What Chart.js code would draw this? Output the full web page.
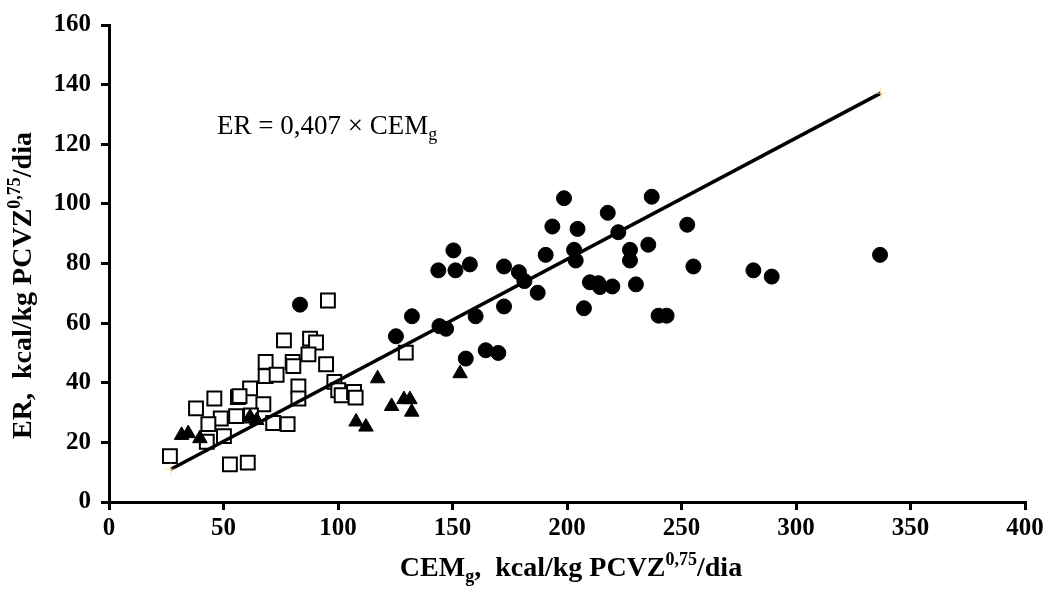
<!DOCTYPE html>
<html><head><meta charset="utf-8">
<script src="https://cdn.jsdelivr.net/npm/chart.js@4/dist/chart.umd.min.js"></script>
<style>html,body{margin:0;padding:0;background:#fff}#wrap{width:1051px;height:596px;position:relative}</style>
</head><body><div id="wrap"><canvas id="c" width="1051" height="596"></canvas></div>
<script>
// ---- data ----
const xTickValues = [0, 50, 100, 150, 200, 250, 300, 350, 400];
const yTickValues = [0, 20, 40, 60, 80, 100, 120, 140, 160];

const squaresX = [95.6,76.4,87.8,90.4,87.1,68.4,80.2,80.5,94.8,68.4,73.2,129.6,61.6,82.7,98.4,100.1,101.6,107,107.7,46,56.3,57,82.7,38,48.8,55.5,67.4,43.4,71.7,78,42.7,50.2,26.6,52.8,60.6,62];
const squaresY = [67.6,54.2,54.8,53.5,49.5,47,47,45.6,46.2,42.2,42.7,50.1,38.1,38.8,40.3,37.5,35.8,36.9,35,34.7,35.2,35.5,34.7,31.4,28,28.8,32.8,26.1,26.5,26.1,20.2,22.1,15.4,12.6,13.2,29];

const trianglesX = [31.7,34.6,39.7,61.6,64.5,117.3,123.4,128.8,131.4,132.2,107.9,112.2,153.3];
const trianglesY = [22.4,23,21.3,28.5,27.4,41.4,32.1,34.4,34.4,30.2,26.9,25.2,43.1];

const circlesX = [83.4,125.3,132.3,144.3,147.2,143.8,150.4,151.3,157.6,160.1,155.8,164.5,170,172.5,172.5,179,181.4,187.2,190.7,193.6,198.7,203.1,203.8,204.6,207.4,210,213.7,214.4,219.8,217.8,222.4,227.5,227.5,235.5,237,230.1,240,243.5,252.5,255.2,281.4,289.4,336.7];
const circlesY = [66.2,55.6,62.3,59,58.1,77.7,84.4,77.7,79.7,62.3,48.1,50.9,50,65.6,79,77.1,74.1,70.2,82.9,92.4,101.9,84.6,81,91.6,65,73.7,73.4,72.1,72.3,97,90.5,84.6,81,86.3,102.4,73,62.5,62.5,93,79,77.7,75.6,82.9];

const regSlope = 0.407;           // ER = 0,407 x CEMg
const regLineX = [27, 337];

// ---- build ----
const pts = (xs, ys) => xs.map((x, i) => ({x: x, y: ys[i]}));
const linePts = regLineX.map(x => ({x: x, y: regSlope * x}));

const FONT = '"Liberation Serif", "Times New Roman", serif';

function drawRich(ctx, segs, x0, baseline, bold, align) {
  let w = 0;
  segs.forEach(s => { ctx.font = (bold ? 'bold ' : '') + s.s + 'px ' + FONT; s.w = ctx.measureText(s.t).width; w += s.w; });
  let x = align === 'left' ? x0 : x0 - w / 2;
  ctx.textBaseline = 'alphabetic';
  ctx.textAlign = 'left';
  segs.forEach(s => {
    ctx.font = (bold ? 'bold ' : '') + s.s + 'px ' + FONT;
    ctx.fillText(s.t, x, baseline + (s.dy || 0));
    x += s.w;
  });
}

const textPlugin = {
  id: 'texts',
  afterDraw(chart) {
    const ctx = chart.ctx, ca = chart.chartArea;
    ctx.save();
    ctx.fillStyle = '#000';
    // x axis title
    drawRich(ctx, [
      {t: 'CEM', s: 28}, {t: 'g', s: 18, dy: 6}, {t: ',  kcal/kg PCVZ', s: 28},
      {t: '0,75', s: 18, dy: -11}, {t: '/dia', s: 28}
    ], (ca.left + ca.right) / 2 + 4, 576, true);
    // y axis title
    ctx.save();
    ctx.translate(21, (ca.top + ca.bottom) / 2 + 22);
    ctx.rotate(-Math.PI / 2);
    drawRich(ctx, [
      {t: 'ER,  kcal/kg PCVZ', s: 28}, {t: '0,75', s: 18, dy: -11}, {t: '/dia', s: 28}
    ], 0, 10, true);
    ctx.restore();
    // regression equation
    drawRich(ctx, [
      {t: 'ER = 0,407 \u00d7 CEM', s: 27}, {t: 'g', s: 18, dy: 6}
    ], 217, 134, false, 'left');
    ctx.restore();
  }
};

Chart.defaults.font.family = FONT;
Chart.defaults.color = '#000';

new Chart(document.getElementById('c'), {
  type: 'scatter',
  data: {
    datasets: [
      {
        label: 'reg', data: linePts, showLine: true, borderColor: '#000', borderWidth: 3.5,
        pointStyle: 'cross', pointRadius: 6, pointBorderColor: 'rgba(255,220,150,0.8)', pointBorderWidth: 1,
        pointBackgroundColor: 'transparent', order: 0
      },
      {
        label: 'squares', data: pts(squaresX, squaresY), pointStyle: 'rect', pointRadius: 9.8,
        backgroundColor: '#fff', borderColor: '#000', borderWidth: 2, order: 3
      },
      {
        label: 'triangles', data: pts(trianglesX, trianglesY), pointStyle: 'triangle', pointRadius: 8.4,
        backgroundColor: '#000', borderColor: '#000', borderWidth: 1, order: 2
      },
      {
        label: 'circles', data: pts(circlesX, circlesY), pointStyle: 'circle', pointRadius: 7.5,
        backgroundColor: '#000', borderColor: '#000', borderWidth: 1, order: 1
      }
    ]
  },
  options: {
    responsive: false, animation: false, devicePixelRatio: 1,
    layout: {padding: {left: 0, top: 24, right: 26, bottom: 0}},
    plugins: {legend: {display: false}, tooltip: {enabled: false}},
    scales: {
      x: {
        type: 'linear', min: 0, max: 400,
        afterBuildTicks: s => { s.ticks = xTickValues.map(v => ({value: v})); },
        afterFit: s => { s.height = 94; },
        border: {display: true, color: '#000', width: 3},
        grid: {drawOnChartArea: false, drawTicks: true, tickLength: 8, color: '#000', lineWidth: 3},
        ticks: {font: {size: 25, weight: 'bold'}, color: '#000', padding: 4, maxRotation: 0}
      },
      y: {
        type: 'linear', min: 0, max: 160,
        afterBuildTicks: s => { s.ticks = yTickValues.map(v => ({value: v})); },
        afterFit: s => { s.width = 109; },
        border: {display: true, color: '#000', width: 3},
        grid: {drawOnChartArea: false, drawTicks: true, tickLength: 8, color: '#000', lineWidth: 3},
        ticks: {font: {size: 25, weight: 'bold'}, color: '#000', padding: 10}
      }
    }
  },
  plugins: [textPlugin]
});
</script>
</body></html>
